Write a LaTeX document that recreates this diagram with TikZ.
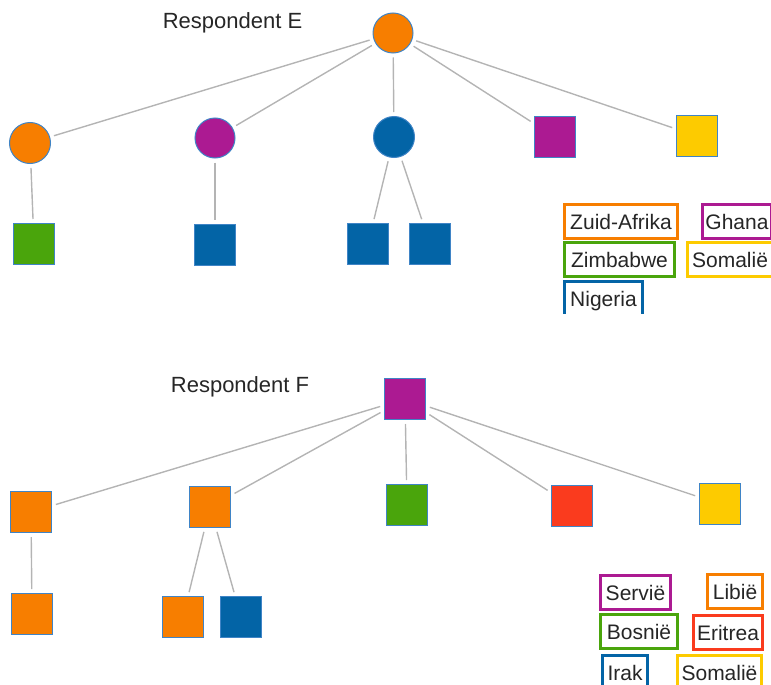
\documentclass[tikz,border=0pt]{standalone}
\usepackage{fontspec}
\setmainfont{Liberation Sans}
\definecolor{cOrange}{HTML}{F77E00}
\definecolor{cPurple}{HTML}{AC1A92}
\definecolor{cBlue}{HTML}{0364A6}
\definecolor{cGreen}{HTML}{4AA50C}
\definecolor{cYellow}{HTML}{FDCB00}
\definecolor{cRed}{HTML}{FA3B1E}
\definecolor{cRim}{HTML}{3F84C6}
\definecolor{cEdge}{HTML}{B4B4B4}
\definecolor{cText}{HTML}{262626}
\begin{document}
\begin{tikzpicture}[x=1pt,y=-1pt,
  edge/.style={draw=cEdge, line width=1.4pt, shorten <=4pt, shorten >=4pt},
  circ/.style={circle, minimum size=40pt, inner sep=0pt, draw=cRim, line width=1pt, fill=#1},
  sq/.style={rectangle, minimum size=41pt, inner sep=0pt, draw=cRim, line width=1pt, fill=#1},
  title/.style={font=\fontsize{22}{26}\selectfont, text=cText, anchor=base, inner sep=0pt},
  key/.style={rectangle, draw=#1, line width=3pt, fill=white, inner xsep=0pt, inner ysep=0pt,
    text height=16pt, text depth=0pt, font=\fontsize{21}{25}\selectfont, text=cText, minimum height=34pt}
]
\useasboundingbox (0,0) rectangle (771,685);

% ---------- Respondent E ----------
\node[title] (tE) at (232.5,29) {Respondent E};
\node[circ=cOrange] (eR) at (393,33) {};
\node[circ=cOrange, minimum size=41pt] (e1) at (30,143) {};
\node[circ=cPurple] (e2) at (215,138) {};
\node[circ=cBlue, minimum size=41pt] (e3) at (394,137) {};
\node[sq=cPurple] (e4) at (555,137) {};
\node[sq=cYellow] (e5) at (697,136) {};
\node[sq=cGreen] (e11) at (34,244) {};
\node[sq=cBlue] (e21) at (215,245) {};
\node[sq=cBlue] (e31) at (368,244) {};
\node[sq=cBlue] (e32) at (430,244) {};
\foreach \t in {e1,e2,e3,e4,e5} \draw[edge] (eR) -- (\t);
\draw[edge] (e1) -- (e11);
\draw[edge] (e2) -- (e21);
\draw[edge] (e3) -- (e31);
\draw[edge] (e3) -- (e32);

\begin{scope}
\clip (550,195) rectangle (771,313);
\node[key=cOrange, minimum width=113pt] (kZA) at (621,221) {Zuid-Afrika};
\node[key=cPurple, minimum width=69pt] (kGh) at (737,221) {Ghana};
\node[key=cGreen, minimum width=110pt] (kZi) at (619.5,259.5) {Zimbabwe};
\node[key=cYellow, minimum width=85pt] (kSoE) at (730,259.5) {Somalië};
\node[key=cBlue, minimum width=78pt] (kNi) at (603.5,298.5) {Nigeria};
\end{scope}

% ---------- Respondent F ----------
\node[title] (tF) at (240,392) {Respondent F};
\node[sq=cPurple] (fR) at (405,399) {};
\node[sq=cOrange] (f1) at (31,512) {};
\node[sq=cOrange] (f2) at (210,507) {};
\node[sq=cGreen] (f3) at (407,505) {};
\node[sq=cRed] (f4) at (572,506) {};
\node[sq=cYellow] (f5) at (720,504) {};
\node[sq=cOrange] (f11) at (32,614) {};
\node[sq=cOrange] (f21) at (183,617) {};
\node[sq=cBlue] (f22) at (241,617) {};
\foreach \t in {f1,f2,f3,f4,f5} \draw[edge] (fR) -- (\t);
\draw[edge] (f1) -- (f11);
\draw[edge] (f2) -- (f21);
\draw[edge] (f2) -- (f22);

\begin{scope}
\clip (590,560) rectangle (771,685);
\node[key=cPurple, minimum width=70pt] (kSe) at (635.5,592.5) {Servië};
\node[key=cOrange, minimum width=55pt] (kLi) at (735,591.5) {Libië};
\node[key=cGreen, minimum width=77pt] (kBo) at (639,631.5) {Bosnië};
\node[key=cRed, minimum width=69pt] (kEr) at (728,632) {Eritrea};
\node[key=cBlue, minimum width=45pt] (kIr) at (625,672.5) {Irak};
\node[key=cYellow, minimum width=84pt] (kSoF) at (719.5,672.5) {Somalië};
\end{scope}
\end{tikzpicture}
\end{document}
